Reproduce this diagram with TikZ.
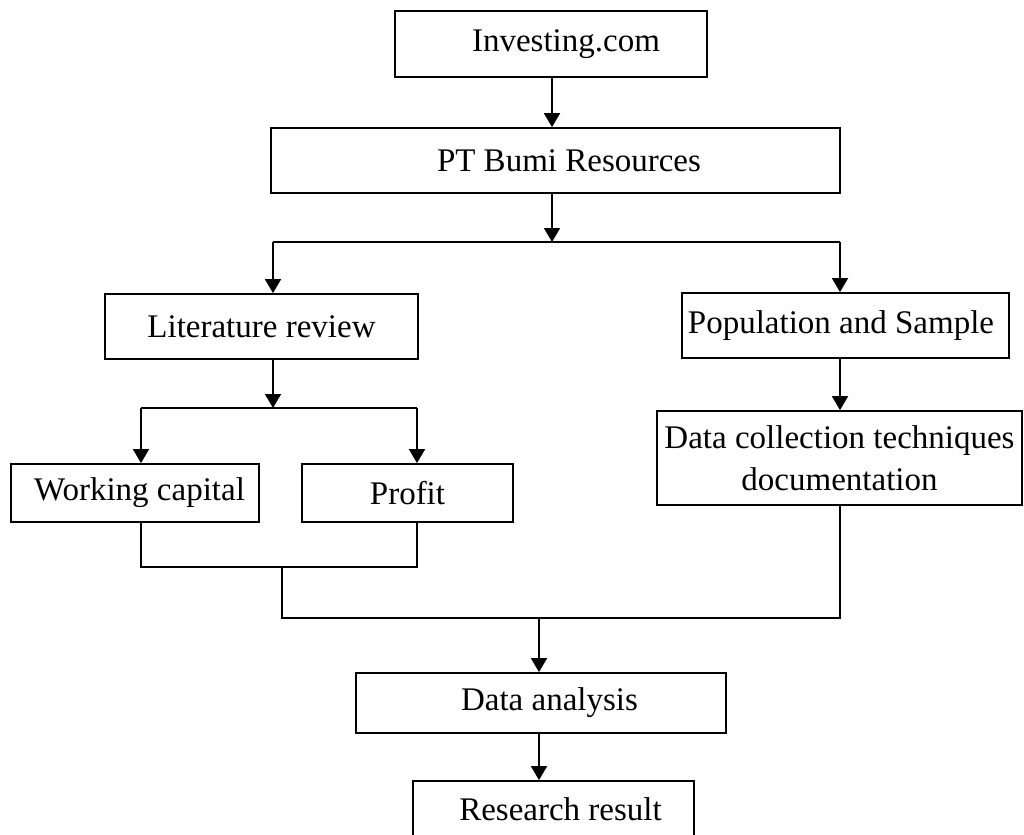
\documentclass[tikz,border=0pt]{standalone}
\usepackage{fontspec}
\setmainfont{Liberation Serif}
\usetikzlibrary{arrows.meta}
\tikzset{
	box/.style={draw, line width=0.9pt, inner sep=0pt, align=center},
	flow/.style={line width=0.9pt, -{Triangle[width=8pt,length=7pt]}},
	link/.style={line width=0.8pt}
	}

\begin{document}
\begin{tikzpicture}[x=0.5pt, y=-0.5pt, font=\fontsize{16.5}{21}\selectfont]

	\useasboundingbox (0,0) rectangle (1024,835);
	\clip (0,0) rectangle (1024,835);

	% boxes
	\node[box, minimum width=156pt, minimum height=33pt] (inv) at (551,44) {\hspace*{15pt}Investing.com};
	\node[box, minimum width=284.5pt, minimum height=32.5pt] (bumi) at (555.5,160.5) {\hspace*{13.5pt}PT Bumi Resources};
	\node[box, minimum width=156.5pt, minimum height=32.5pt] (lit) at (261.5,326.5) {Literature review};
	\node[box, minimum width=163.5pt, minimum height=32.5pt] (pop) at (845.5,325.5) {Population and Sample\hspace*{4.5pt}};
	\node[box, minimum width=124pt, minimum height=29pt] (wc) at (135,493) {\hspace*{4.5pt}Working capital};
	\node[box, minimum width=105.5pt, minimum height=29pt] (prof) at (407.5,493) {Profit};
	\node[box, minimum width=182.5pt, minimum height=47pt] (dct) at (839.5,458) {Data collection techniques\\documentation};
	\node[box, minimum width=185pt, minimum height=30pt] (da) at (541,703) {\hspace*{8.5pt}Data analysis};
	\node[box, minimum width=140.5pt, minimum height=40pt, text depth=12pt] (rr) at (553.5,821) {\hspace*{7pt}Research result};

	% junction points
	\coordinate (s1) at (552,242);
	\coordinate (s1l) at (273,242);
	\coordinate (s1r) at (840,242);
	\coordinate (s2) at (273,408);
	\coordinate (s2l) at (141,408);
	\coordinate (s2r) at (417,408);
	\coordinate (m1l) at (141,567);
	\coordinate (m1r) at (417,567);
	\coordinate (m1) at (282,567);
	\coordinate (m2l) at (282,618);
	\coordinate (m2r) at (840,618);
	\coordinate (m2) at (539,618);

	% top part
	\draw[flow] (inv.south -| s1) -- (s1 |- bumi.north);
	\draw[flow] (bumi.south -| s1) -- (s1);
	\draw[link] (s1l) -- (s1r);
	\draw[flow] (s1l) -- (s1l |- lit.north);
	\draw[flow] (s1r) -- (s1r |- pop.north);

	% left branch
	\draw[flow] (lit.south -| s2) -- (s2);
	\draw[link] (s2l) -- (s2r);
	\draw[flow] (s2l) -- (s2l |- wc.north);
	\draw[flow] (s2r) -- (s2r |- prof.north);

	% right branch
	\draw[flow] (pop.south -| s1r) -- (s1r |- dct.north);

	% merging
	\draw[link] (wc.south -| m1l) -- (m1l) -- (m1r) -- (prof.south -| m1r);
	\draw[link] (m1) -- (m2l) -- (m2r) -- (dct.south -| m2r);
	\draw[flow] (m2) -- (m2 |- da.north);
	\draw[flow] (da.south -| m2) -- (m2 |- rr.north);

\end{tikzpicture}
\end{document}
